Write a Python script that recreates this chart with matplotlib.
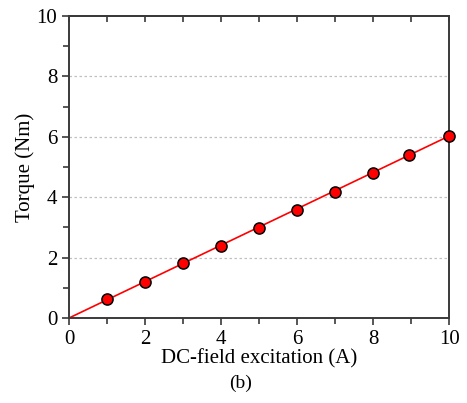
import matplotlib
matplotlib.use('Agg')
import matplotlib.pyplot as plt
import numpy as np
from matplotlib.ticker import MultipleLocator

plt.rcParams['font.family'] = ['Liberation Serif', 'DejaVu Serif']

excitation = [1, 2, 3, 4, 5, 6, 7, 8, 8.95, 10]
torque = [0.63, 1.19, 1.81, 2.37, 2.97, 3.59, 4.16, 4.79, 5.41, 6.03]
fit_x = [0, 10]
fit_y = [0.0, 6.03]

axis_color = '#3a3a3a'

fig = plt.figure(figsize=(4.67, 4.03), dpi=100)
ax = fig.add_axes([0.148, 0.211, 0.814, 0.749])

for y in [2, 4, 6, 8]:
    ax.axhline(y, color='#c0c0c0', linestyle=(0, (2, 2)), linewidth=0.9, zorder=0)

ax.plot(fit_x, fit_y, color='red', linewidth=1.2, zorder=2)
ax.plot(excitation, torque, 'o', color='red', markeredgecolor='black',
        markersize=8, markeredgewidth=1.1, zorder=3, clip_on=False)

ax.set_xlim(0, 10)
ax.set_ylim(0, 10)
ax.xaxis.set_major_locator(MultipleLocator(2))
ax.xaxis.set_minor_locator(MultipleLocator(1))
ax.yaxis.set_major_locator(MultipleLocator(2))
ax.yaxis.set_minor_locator(MultipleLocator(1))

ax.tick_params(which='both', direction='out', labelsize=15, width=1.2,
               color=axis_color, top=False, right=False)
ax.tick_params(which='major', length=5)
ax.tick_params(which='minor', length=4)
for s in ax.spines.values():
    s.set_linewidth(1.4)
    s.set_color(axis_color)

# top axis: inward ticks, no labels
top = ax.secondary_xaxis('top')
top.xaxis.set_major_locator(MultipleLocator(1))
top.tick_params(direction='in', length=4, width=1.2, color=axis_color,
                labeltop=False)
top.spines['top'].set_linewidth(1.4)
top.spines['top'].set_color(axis_color)

ax.set_xlabel('DC-field excitation (A)', fontsize=15, labelpad=0)
ax.set_ylabel('Torque (Nm)', fontsize=15, labelpad=1)
fig.text(0.516, 0.05, '(b)', ha='center', va='center', fontsize=14)

fig.savefig('out.png', dpi=100)
